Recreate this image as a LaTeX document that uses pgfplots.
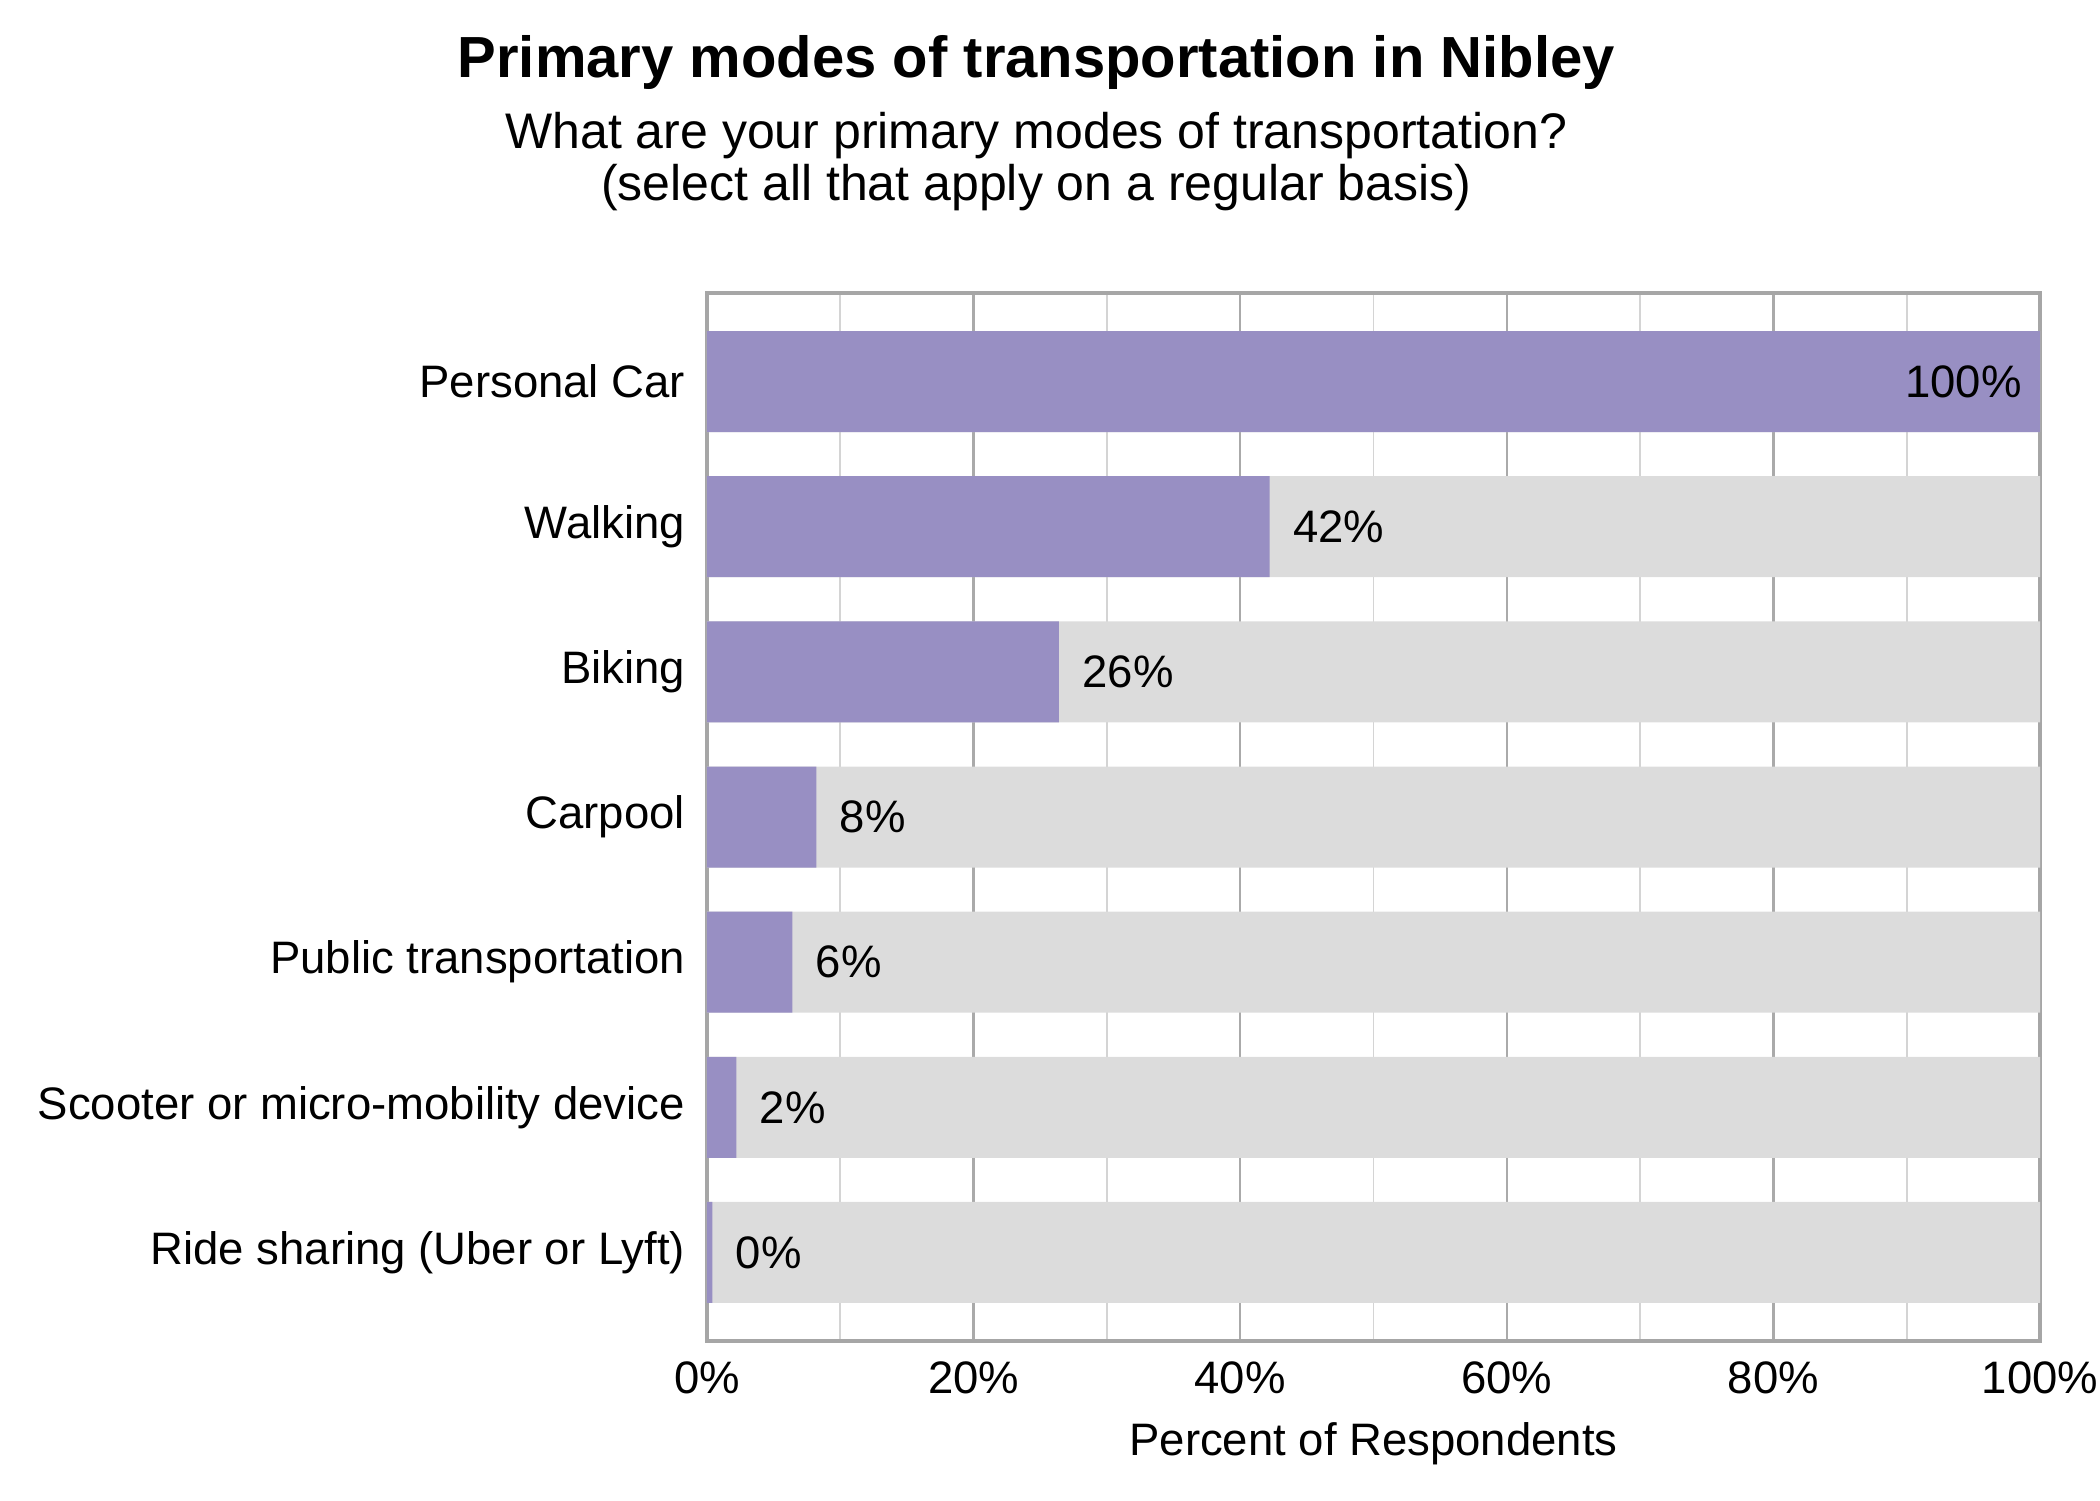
\documentclass[border=0pt]{standalone}
\usepackage{fontspec}
\setmainfont{Liberation Sans}
\usepackage{pgfplots}
\usepackage{pgfplotstable}
\pgfplotsset{compat=1.18}

\definecolor{barpurple}{RGB}{152,143,195}
\definecolor{bargray}{RGB}{220,220,220}
\definecolor{framegray}{RGB}{166,166,166}
\definecolor{majorgray}{RGB}{170,170,170}
\definecolor{minorgray}{RGB}{212,212,212}

% share of respondents per mode (y = row, 6 at top)
\pgfplotstableread{
x y label
100 6 100\%
42.2 5 42\%
26.4 4 26\%
8.2 3 8\%
6.4 2 6\%
2.2 1 2\%
0.4 0 0\%
}\modes

\begin{document}
\begin{tikzpicture}
\path[use as bounding box] (-141.4pt,-31.8pt) rectangle (278.6pt,268.2pt);
\begin{axis}[
    at={(0,0)}, anchor=south west,
    scale only axis,
    width=266.6pt, height=209.6pt,
    xmin=0, xmax=100,
    ymin=-0.61, ymax=6.61,
    xtick={0,20,40,60,80,100},
    xticklabels={0\%,20\%,40\%,60\%,80\%,100\%},
    minor x tick num=1,
    ytick={0,1,2,3,4,5,6},
    yticklabels={Ride sharing (Uber or Lyft),Scooter or micro-mobility device,Public transportation,Carpool,Biking,Walking,Personal Car},
    major tick length=0pt, minor tick length=0pt,
    xmajorgrids, xminorgrids,
    major grid style={majorgray, line width=0.45pt},
    minor grid style={minorgray, line width=0.35pt},
    axis line style={framegray, line width=0.7pt},
    tick label style={font=\fontsize{9.1}{11}\selectfont, text=black},
    yticklabel style={anchor=east, inner sep=0pt, xshift=-4.2pt},
    xticklabel style={anchor=base, inner sep=0pt, yshift=-10.4pt},
    clip=false,
]
% grey background bars to 100%
\addplot[xbar, bar width=20.2pt, fill=bargray, draw=none] coordinates {
(100,0) (100,1) (100,2) (100,3) (100,4) (100,5) (100,6)
};
% purple value bars
\addplot[xbar, bar width=20.2pt, fill=barpurple, draw=none] table[x=x, y=y] {\modes};
% value labels beside the bars
\addplot[draw=none, nodes near coords, point meta=explicit symbolic,
    skip coords between index={0}{1},
    every node near coord/.style={anchor=west, inner sep=0pt, xshift=4.5pt,
        font=\fontsize{9.1}{11}\selectfont, text=black}]
    table[x=x, y=y, meta=label] {\modes};
% label inside the full bar
\addplot[draw=none, nodes near coords, point meta=explicit symbolic,
    skip coords between index={1}{7},
    every node near coord/.style={anchor=east, inner sep=0pt, xshift=-3.5pt,
        font=\fontsize{9.1}{11}\selectfont, text=black}]
    table[x=x, y=y, meta=label] {\modes};

\node[anchor=base, font=\fontsize{11.6}{14}\selectfont\bfseries] at (rel axis cs:0.247,1.206) {Primary modes of transportation in Nibley};
\node[anchor=base, font=\fontsize{10}{12}\selectfont] at (rel axis cs:0.247,1.138) {What are your primary modes of transportation?};
\node[anchor=base, font=\fontsize{10}{12}\selectfont] at (rel axis cs:0.247,1.088) {(select all that apply on a regular basis)};
\node[anchor=base, font=\fontsize{9.1}{11}\selectfont, yshift=-22.8pt] at (rel axis cs:0.5,0) {Percent of Respondents};
\end{axis}
\end{tikzpicture}
\end{document}
